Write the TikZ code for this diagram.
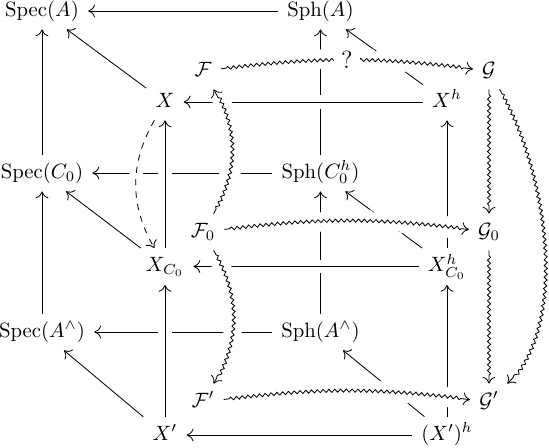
\documentclass[tikz,border=0pt]{standalone}
\usetikzlibrary{arrows.meta,decorations.pathmorphing}
\begin{document}
\begin{tikzpicture}[x=0.4827pt,y=-0.4827pt,
  cell/.style={inner xsep=1ex, inner ysep=0.85ex, text height=7.5pt, text depth=2.5pt},
  arr/.style={-{Computer Modern Rightarrow[length=3.3pt,width=6.2pt]}, line width=0.4pt},
  over/.style={preaction={draw=white, solid, -, line width=6.5pt}},
  squig/.style={decorate, decoration={snake, amplitude=0.75pt, segment length=2.8pt, pre length=2.5pt, post length=3.3pt}},
  qlabel/.style={fill=white, inner xsep=3.6pt, inner ysep=1pt, font=\large}
]
\useasboundingbox (0,0) rectangle (549,447);
% nodes
\node[cell] (specA)  at (42,11)    {$\mathrm{Spec}(A)$};
\node[cell] (sphA)   at (320.5,11) {$\mathrm{Sph}(A)$};
\node[cell] (F)      at (203,71)   {$\mathcal{F}$};
\node[cell] (G)      at (489,71)   {$\mathcal{G}$};
\node[cell] (X)      at (165,102)  {$X$};
\node[cell] (Xh)     at (447,102)  {$X^h$};
\node[cell] (specC)  at (42,173)   {$\mathrm{Spec}(C_0)$};
\node[cell] (sphC)   at (320.5,173){$\mathrm{Sph}(C_0^h)$};
\node[cell] (F0)     at (203,232)  {$\mathcal{F}_0$};
\node[cell] (G0)     at (489,232)  {$\mathcal{G}_0$};
\node[cell] (XC)     at (165,266.5){$X_{C_0}$};
\node[cell] (XhC)    at (447,266.5){$X^h_{C_0}$};
\node[cell] (specAh) at (42,332)   {$\mathrm{Spec}(A^\wedge)$};
\node[cell] (sphAh)  at (320.5,332){$\mathrm{Sph}(A^\wedge)$};
\node[cell] (Fp)     at (203,402)  {$\mathcal{F}'$};
\node[cell] (Gp)     at (489,402)  {$\mathcal{G}'$};
\node[cell] (Xp)     at (165,435)  {$X'$};
\node[cell] (Xph)    at (447,435)  {$(X')^h$};
% lower layer
\draw[arr] (sphC) -- (specC);
\draw[arr] (sphAh) -- (specAh);
\draw[arr] (sphC) -- (sphA);
\draw[arr] (sphAh) -- (sphC);
\draw[arr] (Xh) -- (sphA);
\draw[arr] (XhC) -- (sphC);
\draw[arr] (Xph) -- (sphAh);
\draw[arr] (XhC) -- (Xh);
\draw[arr] (Xph) -- (XhC);
% plain arrows
\draw[arr] (sphA) -- (specA);
\draw[arr] (specC) -- (specA);
\draw[arr] (specAh) -- (specC);
\draw[arr] (X) -- (specA);
\draw[arr] (XC) -- (specC);
\draw[arr] (Xp) -- (specAh);
\draw[arr] (Xph) -- (Xp);
% crossing over
\draw[arr,over] (XC) -- (X);
\draw[arr,over] (Xp) -- (XC);
\draw[arr,over] (Xh) -- (X);
\draw[arr,over] (XhC) -- (XC);
\draw[arr,over,dashed] (X) to[bend right=30] (XC);
% squiggly
\draw[arr,squig,over] (F0) to[bend right=30] (F);
\draw[arr,squig,over] (F0) to[bend left=30] (Fp);
\draw[arr,squig,over] (F) to[bend left=7] (G);
\path (F) to[bend left=7] node[qlabel] (q) {$?$} (G);
\draw[arr,squig,over] (F0) to[bend left=7] (G0);
\draw[arr,squig,over] (Fp) to[bend left=7] (Gp);
\draw[arr,squig] (G) -- (G0);
\draw[arr,squig] (G0) -- (Gp);
\draw[arr,squig] (G) to[out=-60,in=45,looseness=0.78] (Gp);
\end{tikzpicture}
\end{document}
